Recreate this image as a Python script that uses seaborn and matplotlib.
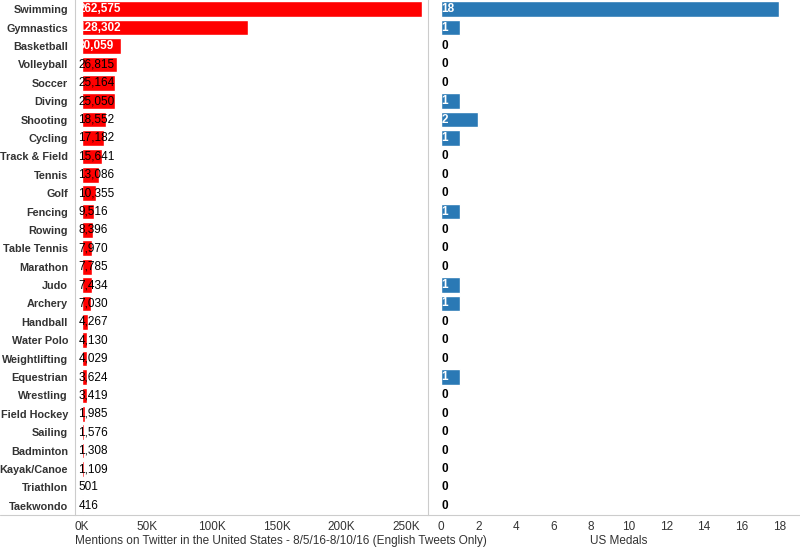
import matplotlib
matplotlib.use('Agg')
import matplotlib.pyplot as plt
import seaborn as sns
import pandas as pd
from matplotlib.ticker import FuncFormatter

sports = ["Swimming", "Gymnastics", "Basketball", "Volleyball", "Soccer", "Diving",
          "Shooting", "Cycling", "Track & Field", "Tennis", "Golf", "Fencing", "Rowing",
          "Table Tennis", "Marathon", "Judo", "Archery", "Handball", "Water Polo",
          "Weightlifting", "Equestrian", "Wrestling", "Field Hockey", "Sailing",
          "Badminton", "Kayak/Canoe", "Triathlon", "Taekwondo"]
mentions = [262575, 128302, 30059, 26815, 25164, 25050, 18552, 17182, 15641, 13086,
            10355, 9516, 8396, 7970, 7785, 7434, 7030, 4267, 4130, 4029, 3624, 3419,
            1985, 1576, 1308, 1109, 501, 416]
medals = [18, 1, 0, 0, 0, 1, 2, 1, 0, 0, 0, 1, 0, 0, 0, 1, 1, 0, 0, 0, 1, 0, 0, 0,
          0, 0, 0, 0]

df = pd.DataFrame({"sport": sports, "mentions": mentions, "medals": medals})

sns.set_style("white")
plt.rcParams['font.family'] = ['Liberation Sans', 'DejaVu Sans']

fig = plt.figure(figsize=(8, 5.54), dpi=100)
ax1 = fig.add_axes([75 / 800, 39 / 554, 353 / 800, 515 / 554])
ax2 = fig.add_axes([437 / 800, 39 / 554, 363 / 800, 515 / 554])

sns.barplot(data=df, x="mentions", y="sport", ax=ax1, color="#ff0000",
            saturation=1, width=0.85)
sns.barplot(data=df, x="medals", y="sport", ax=ax2, color="#2a79b5",
            saturation=1, width=0.85)

ax1.set_xlim(-5500, 267000)
ax2.set_xlim(-0.2, 19.1)
for ax in (ax1, ax2):
    ax.set_ylim(len(sports) - 0.5, -0.5)
    for s in ax.spines.values():
        s.set_visible(False)
    ax.tick_params(axis='x', labelsize=8.5, colors='#333333', length=0, pad=4)
    ax.xaxis.label.set_size(8.5)
    ax.xaxis.label.set_color('#333333')

ax1.spines['left'].set_visible(True)
ax1.spines['right'].set_visible(True)
ax1.spines['left'].set_color('#cccccc')
ax1.spines['right'].set_color('#cccccc')
ax1.set_xticks([0, 50000, 100000, 150000, 200000, 250000])
ax1.xaxis.set_major_formatter(FuncFormatter(lambda v, p: f"{int(v / 1000)}K"))
ax1.set_xlabel("Mentions on Twitter in the United States - 8/5/16-8/10/16 (English Tweets Only)",
               labelpad=2, loc='left')
ax1.set_ylabel("")
ax1.tick_params(axis='y', labelsize=7.8, length=0, pad=5)
for t in ax1.get_yticklabels():
    t.set_fontweight('bold')
    t.set_color('#333333')

ax2.set_xticks(range(0, 19, 2))
ax2.set_yticks([])
ax2.set_ylabel("")
ax2.set_xlabel("US Medals", labelpad=2)

for i, v in enumerate(mentions):
    big = v > 28000
    ax1.text(-3000, i, f"{v:,}", va='center', ha='left', fontsize=8.5,
             color='white' if big else 'black', fontweight='bold' if big else 'normal')
for i, v in enumerate(medals):
    ax2.text(0.05, i, str(v), va='center', ha='left', fontsize=8.5,
             color='white' if v > 0 else 'black', fontweight='bold')

fig.add_artist(plt.Line2D([0, 1], [39 / 554, 39 / 554], color='#cccccc', lw=0.8))

plt.savefig('out.png', dpi=100)
plt.close()
